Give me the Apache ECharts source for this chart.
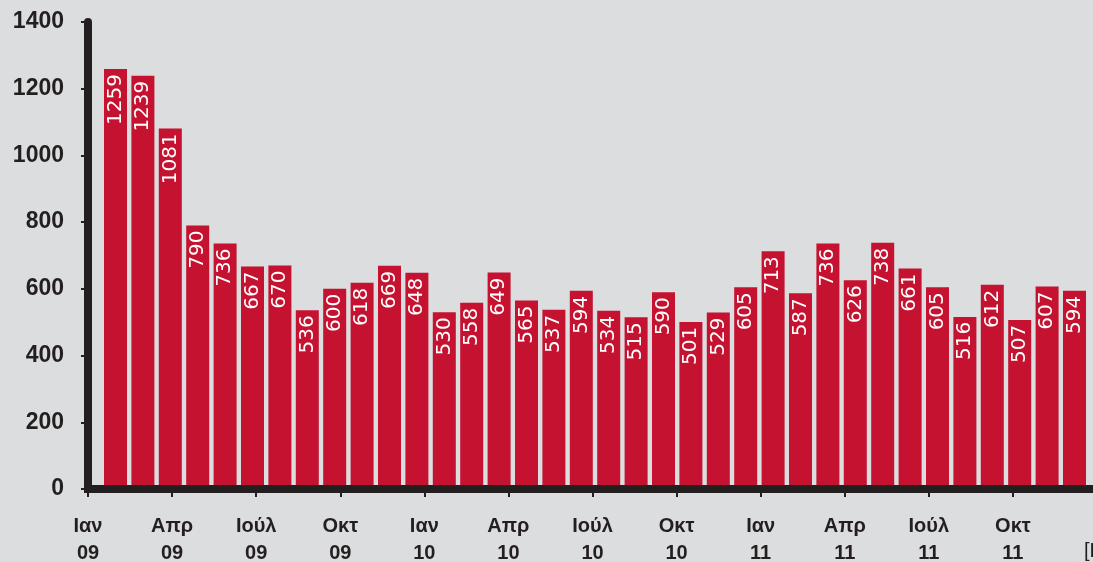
<!DOCTYPE html>
<html>
<head>
<meta charset="utf-8">
<script src="https://cdn.jsdelivr.net/npm/echarts@6/dist/echarts.min.js"></script>
<style>
  html, body { margin: 0; padding: 0; background: #dcdddf; }
  #chart { width: 1093px; height: 562px; }
</style>
</head>
<body>
<div id="chart"></div>
<script>
// μήνες 2009-2011
const months = [
  'Ιαν 09','Φεβ 09','Μαρ 09','Απρ 09','Μάι 09','Ιούν 09','Ιούλ 09','Αύγ 09','Σεπ 09','Οκτ 09','Νοέ 09','Δεκ 09',
  'Ιαν 10','Φεβ 10','Μαρ 10','Απρ 10','Μάι 10','Ιούν 10','Ιούλ 10','Αύγ 10','Σεπ 10','Οκτ 10','Νοέ 10','Δεκ 10',
  'Ιαν 11','Φεβ 11','Μαρ 11','Απρ 11','Μάι 11','Ιούν 11','Ιούλ 11','Αύγ 11','Σεπ 11','Οκτ 11','Νοέ 11','Δεκ 11'
]
const values = [
  1259, 1239, 1081, 790, 736, 667, 670, 536, 600, 618, 669, 648,
  530, 558, 649, 565, 537, 594, 534, 515, 590, 501, 529, 605,
  713, 587, 736, 626, 738, 661, 605, 516, 612, 507, 607, 594
]
// ετικέτες άξονα x, ανά τρίμηνο
const tickLabels = [
  'Ιαν\n09','Απρ\n09','Ιούλ\n09','Οκτ\n09',
  'Ιαν\n10','Απρ\n10','Ιούλ\n10','Οκτ\n10',
  'Ιαν\n11','Απρ\n11','Ιούλ\n11','Οκτ\n11'
]
const yTicks = { min: 0, max: 1400, interval: 200 }

const INK = '#231f20'
const RED = '#c41230'
const axisFont = { fontFamily: 'Liberation Sans', fontWeight: 'bold', color: INK }

const chart = echarts.init(document.getElementById('chart'), null, { renderer: 'canvas' })

chart.setOption({
  backgroundColor: '#dcdddf',
  animation: false,
  grid: [
    { left: 101.8, top: 22, width: 986.4, bottom: 73, outerBoundsMode: 'none', containLabel: false },   // bars
    { left: 88, top: 22, width: 1009, bottom: 73, outerBoundsMode: 'none', containLabel: false }        // visible axes
  ],
  xAxis: [
    { gridIndex: 0, type: 'category', data: months, show: false },
    { gridIndex: 1, type: 'value', min: 0, max: months.length, interval: 3, z: 5,
      axisLine: { show: true, lineStyle: { color: INK, width: 8, cap: 'square' } },
      axisTick: { show: true, length: 8, lineStyle: { color: INK, width: 2 } },
      splitLine: { show: false },
      axisLabel: { ...axisFont, fontSize: 20, lineHeight: 27, margin: 24, showMaxLabel: false,
        formatter: v => tickLabels[v / 3] || '' } }
  ],
  yAxis: [
    { gridIndex: 0, type: 'value', min: yTicks.min, max: yTicks.max, show: false },
    { gridIndex: 1, type: 'value', ...yTicks, z: 5,
      axisLine: { show: true, lineStyle: { color: INK, width: 8 } },
      axisTick: { show: true, length: 7, lineStyle: { color: INK, width: 2 } },
      splitLine: { show: false },
      axisLabel: { ...axisFont, fontSize: 23, margin: 24, formatter: v => String(v) } }
  ],
  series: [{
    type: 'bar', xAxisIndex: 0, yAxisIndex: 0,
    data: values, barWidth: 23,
    itemStyle: { color: RED },
    label: {
      show: true, position: 'insideTop', rotate: 90, align: 'right', verticalAlign: 'middle',
      distance: 5, color: '#fff', fontSize: 20, fontFamily: 'DejaVu Sans'
    }
  }],
  graphic: [
    { type: 'text', left: 1084, top: 541,
      style: { text: '[Πηγή', fill: INK, font: '20px "Liberation Sans"' } }
  ]
})
</script>
</body>
</html>
